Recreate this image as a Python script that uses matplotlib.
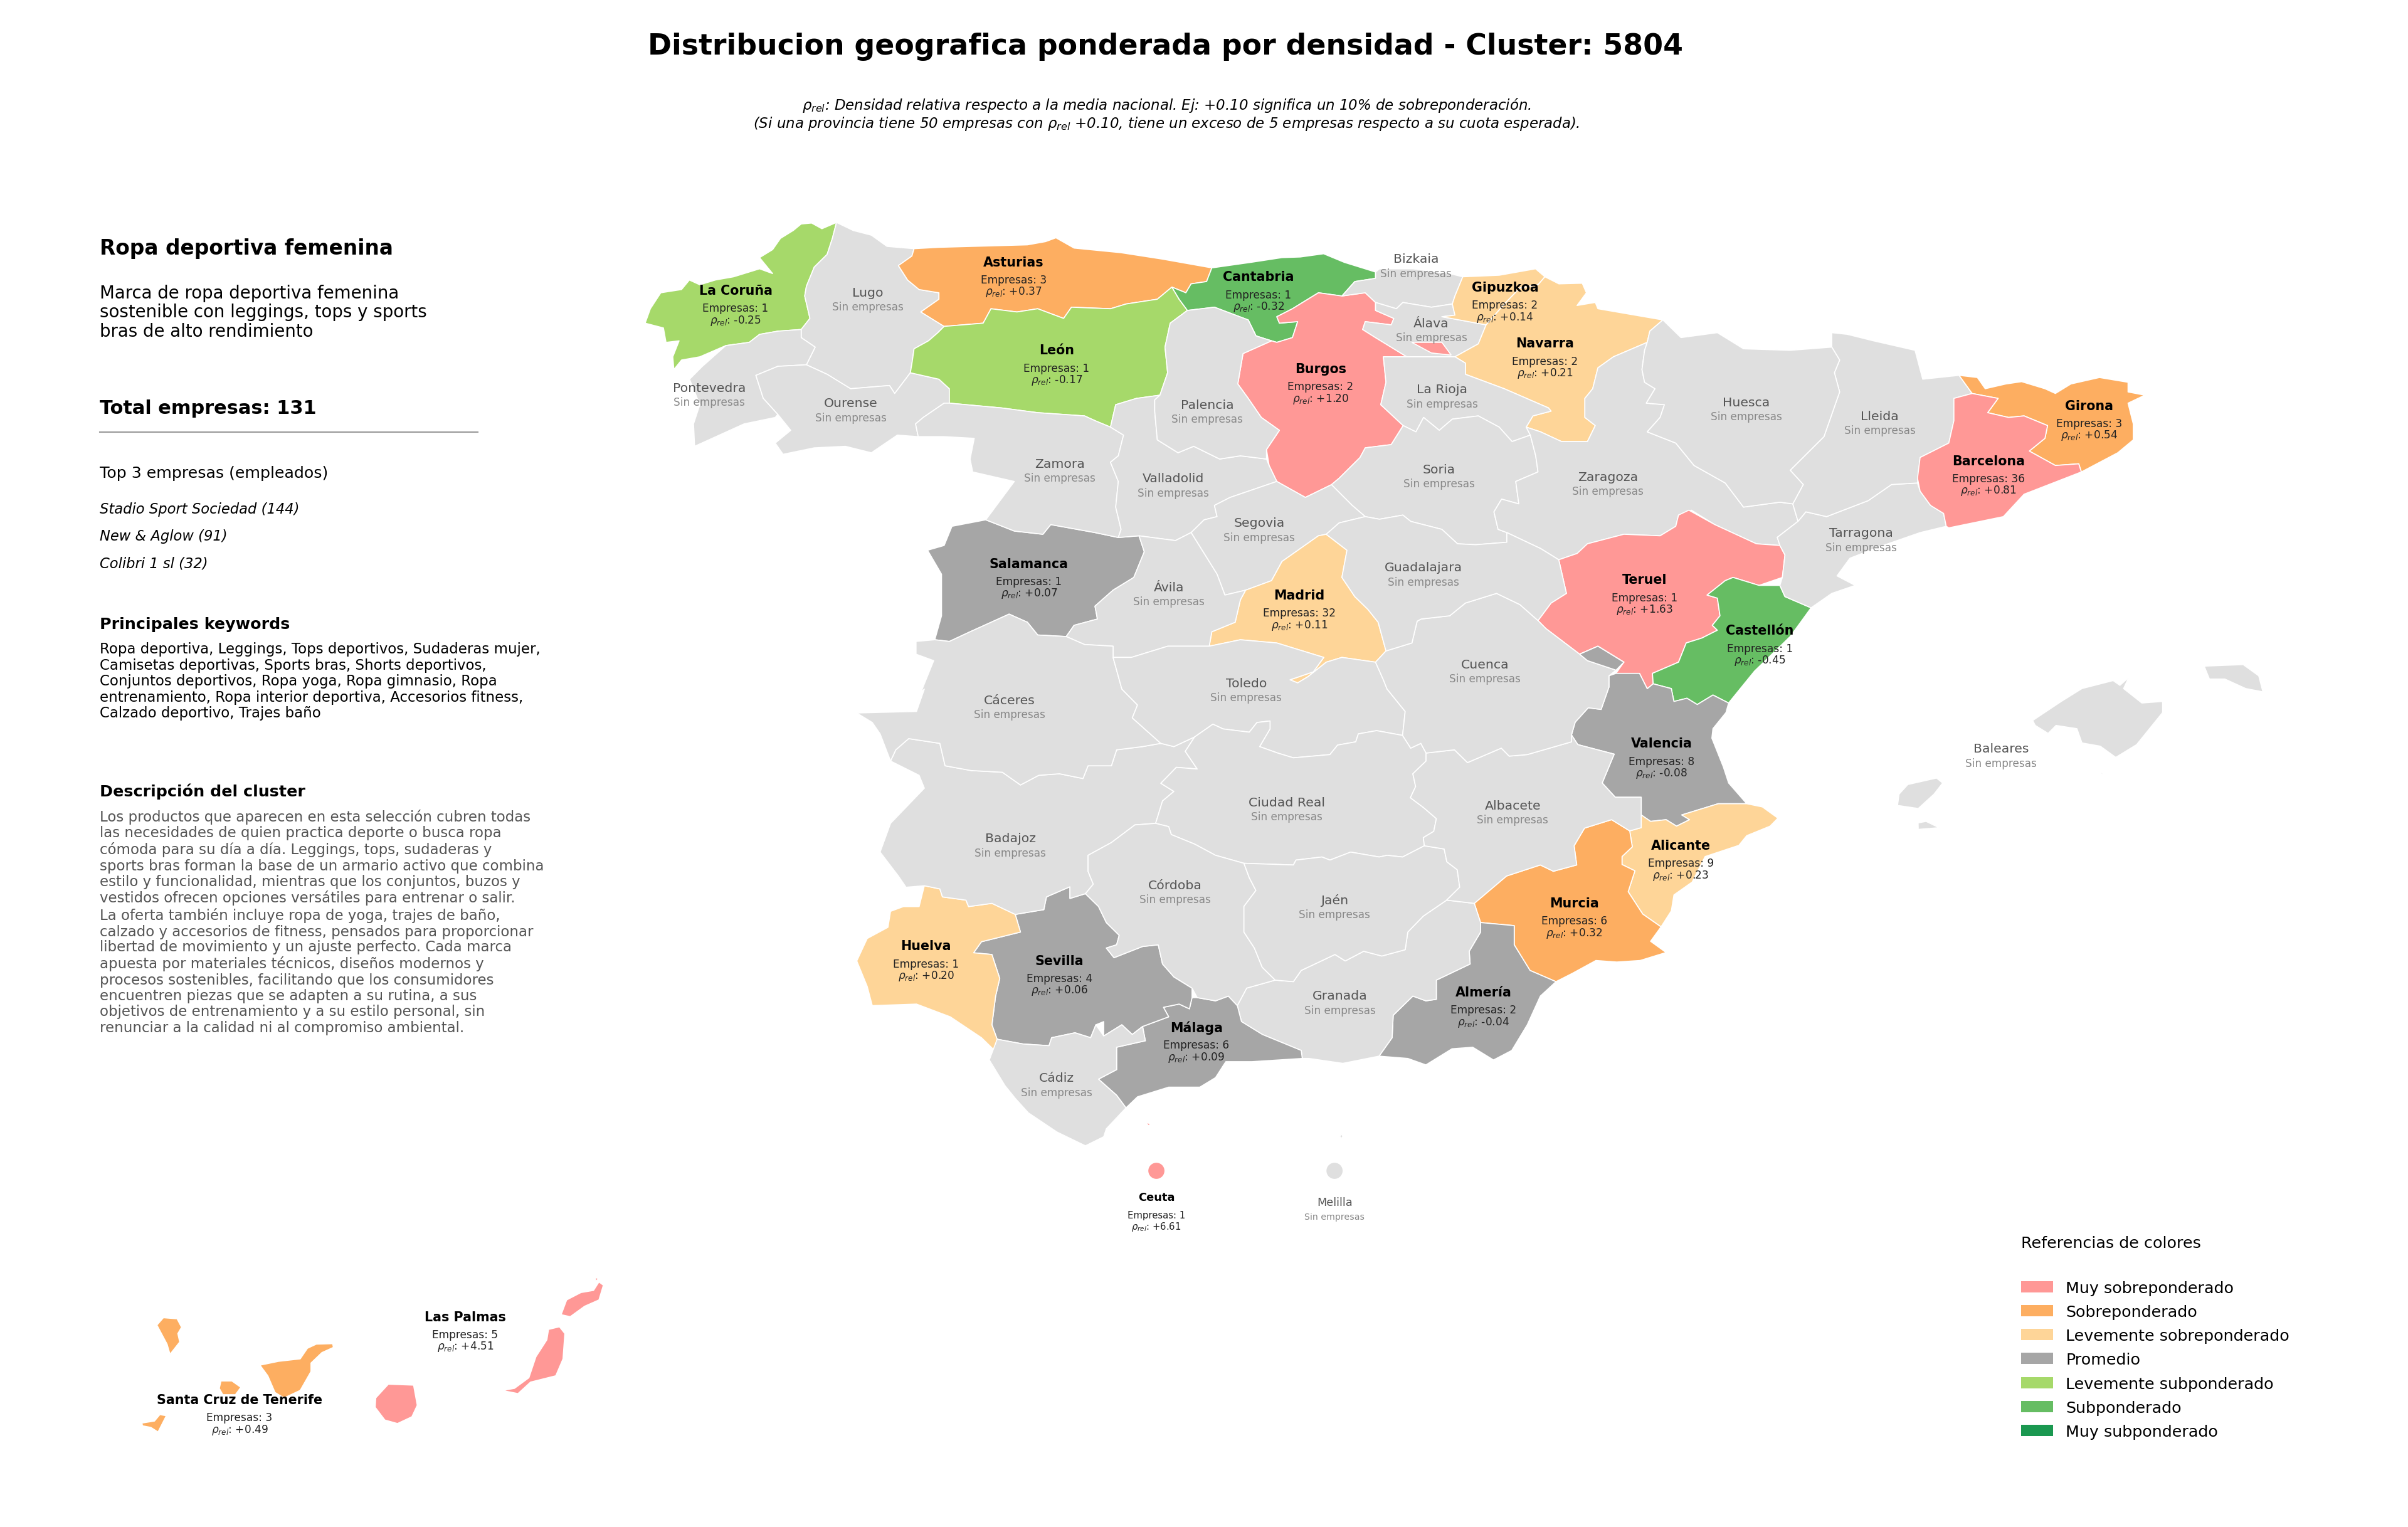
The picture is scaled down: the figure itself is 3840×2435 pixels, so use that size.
import matplotlib
matplotlib.use("Agg")
import matplotlib.pyplot as plt
from matplotlib.patches import Polygon, Patch, Ellipse

# ---------- outlines (map units) ----------
LA_CORUNA=[(544.7,145.3),(542,155.7),(538.6,166.1),(530.2,174.4),(525.1,186.9),(524,193.2),(527.4,207.8),(521.7,215),(506.5,216.1),(494.6,218.2),(487.9,223.4),(472.6,225.5),(455.7,232.8),(443.8,234.9),(438.8,241.1),(438.1,232.8),(442.2,222.4),(433.7,223.4),(432,214),(420.1,210.9),(423.5,201.5),(430.3,191.1),(443.8,189),(448.9,182.8),(455.7,185.9),(465.8,182.8),(477.7,180.7),(494.6,175.5),(503.1,178.6),(494.6,168.2),(503.1,163),(508.2,155.7),(516.6,150.5),(521.7,146.3),(528.5,145.7),(535.2,149.4)]
LUGO=[(544.7,145.3),(555.5,150.5),(567.4,153.6),(577.6,160.9),(595.2,162.4),(593.8,167.2),(585,173.4),(591,182.8),(598.5,189),(611.4,191.1),(611.4,195.3),(599.6,203.6),(614.8,213),(610.7,217.1),(604.6,222.4),(595.2,227.6),(594,236),(592.8,243.2),(582.6,256.7),(579.2,251.5),(553.9,253.6),(538.6,244.2),(525.1,238),(530.8,226.5),(521.7,220.3),(521.7,215),(527.4,207.8),(524,193.2),(525.1,186.9),(530.2,174.4),(538.6,166.1),(542,155.7)]
PONTEVEDRA=[(521.7,215),(521.7,220.3),(530.8,226.5),(525.1,238),(506.5,239),(492.2,244.9),(497,259.8),(506.5,270.3),(504.8,272.3),(484.5,276.5),(452.3,291.1),(451.6,276.5),(455.7,264),(449,247.4),(457.4,239),(472.6,225.5),(487.9,223.4),(494.6,218.2),(506.5,216.1)]
OURENSE=[(492.2,244.9),(506.5,239),(525.1,238),(538.6,244.2),(553.9,253.6),(579.2,251.5),(582.6,256.7),(592.8,243.2),(611.4,247.4),(618.2,253.6),(618.2,263),(614.8,263),(601.2,272.3),(596.2,276.5),(597.9,284.8),(584.3,283.8),(567.4,295.3),(550.5,291.1),(530.2,292.1),(509.9,296.3),(504.8,289),(514.9,280.7),(506.5,270.3),(497,259.8)]
ASTURIAS=[(585,173.4),(593.8,167.2),(595.2,162.4),(611.4,161.5),(669,159.9),(680.8,157.8),(687.6,155.3),(699.4,162),(729.9,165),(757,169.2),(789.1,174.9),(785.7,183.8),(775.6,185.3),(772.2,191.1),(763.1,187.4),(753.6,195.3),(733.3,198.4),(723.1,201.5),(697.7,200.5),(692.6,207.8),(675.7,201.5),(662.2,203.6),(645.3,201.5),(640.2,210.9),(614.8,213),(599.6,203.6),(611.4,195.3),(611.4,191.1),(598.5,189),(591,182.8)]
LEON=[(614.8,213),(640.2,210.9),(645.3,201.5),(662.2,203.6),(675.7,201.5),(692.6,207.8),(697.7,200.5),(723.1,201.5),(733.3,198.4),(753.6,195.3),(763.1,187.4),(767.8,195.3),(773.2,202.6),(762,210.9),(758.6,226.5),(760.3,243.2),(755.3,257.8),(740,259.9),(726.5,264),(723.1,278.6),(713,274.4),(706.2,271.3),(675.7,269.2),(652,266.1),(618.2,263),(618.2,253.6),(611.4,247.4),(592.8,243.2),(594,236),(595.2,227.6),(604.6,222.4),(610.7,217.1)]
CANTABRIA=[(789.1,174.9),(814.5,171.3),(834.8,168.2),(846.7,167.8),(861.9,165.7),(875.4,171.3),(895.7,177.6),(895.7,181.7),(882.2,183.8),(873.8,193.2),(858.5,191.1),(841.6,201.5),(831.4,206.7),(833.1,210.9),(845,209.9),(841.6,220.3),(831.4,223.4),(828,222.4),(817.9,219.2),(812.8,208.8),(790.8,200.5),(773.2,202.6),(767.8,195.3),(763.1,187.4),(772.2,191.1),(775.6,185.3),(785.7,183.8)]
BURGOS=[(873.8,193.2),(889,191.1),(895.7,197.4),(895.7,202.6),(907.6,207.8),(905.9,212),(889,209.9),(887.3,215),(895.7,220.3),(916.1,232.8),(900.8,232.8),(902.5,249.4),(899.1,264),(913.7,277.6),(905.9,290),(889,292.1),(885.6,298.4),(872,311.9),(867,316.1),(850,324.4),(831.4,314),(826.4,303.6),(824.7,293.2),(833.1,280.7),(821.3,272.3),(812.8,259.9),(806,250.5),(809.4,230.7),(828,222.4),(831.4,223.4),(841.6,220.3),(845,209.9),(833.1,210.9),(831.4,206.7),(841.6,201.5),(858.5,191.1)]
TREVINO=[(919.3,223.4),(938.9,223.4),(945,231.7),(932.1,230.3)]
BIZKAIA=[(873.8,193.2),(882.2,183.8),(895.7,181.7),(895.7,177.6),(898.3,175.5),(920,175.5),(944,178.6),(952.5,180.7),(947.4,193.2),(945.7,198.4),(932.1,200.5),(913.5,197.4),(909.3,201.5),(895.7,197.4),(889,191.1)]
ALAVA=[(895.7,197.4),(909.3,201.5),(913.5,197.4),(932.1,200.5),(945.7,198.4),(947.4,205.7),(938.9,206.7),(967.7,212),(962.6,224.4),(947.4,232.8),(916.1,232.8),(895.7,220.3),(887.3,215),(889,209.9),(905.9,212),(907.6,207.8),(895.7,202.6)]
GIPUZKOA=[(952.5,180.7),(976.2,179.7),(999.9,175.5),(1006,180.7),(1001.5,185.9),(989.7,188),(980,198),(967.7,212),(938.9,206.7),(947.4,205.7),(945.7,198.4),(947.4,193.2)]
NAVARRA=[(1006,180.7),(1015.1,185.3),(1030.3,184.9),(1033,191.1),(1026.9,199.4),(1038.8,197.4),(1040.5,201.5),(1082.8,208.8),(1074.3,216.1),(1072.6,223.4),(1050.6,232.8),(1040.5,240),(1037.1,253.6),(1032,259.9),(1032,272.3),(1038.8,277.6),(1033.7,288),(1016.8,288),(1003.2,281.7),(993.8,278.6),(998.2,271.3),(1010,268.2),(1008.3,266.1),(979.5,253.6),(954.2,244.2),(954.2,236.9),(947.4,232.8),(962.6,224.4),(967.7,212),(980,198),(989.7,188),(1001.5,185.9)]
LA_RIOJA=[(900.8,232.8),(916.1,232.8),(947.4,232.8),(954.2,236.9),(954.2,244.2),(979.5,253.6),(1008.3,266.1),(1010,268.2),(998.2,271.3),(993.8,278.6),(996.5,283.8),(984.6,288),(976.2,278.6),(962.6,271.3),(945.7,273.4),(937.2,280.7),(927,272.3),(922,281.7),(913.7,277.6),(899.1,264),(902.5,249.4)]
SORIA=[(913.7,277.6),(922,281.7),(927,272.3),(937.2,280.7),(945.7,273.4),(962.6,271.3),(976.2,278.6),(984.6,288),(996.5,283.8),(1000,297.3),(1001.5,307.8),(987,314),(989,328.6),(977.8,325.5),(972.8,333.8),(975.5,345.2),(981.2,347.3),(981.2,353.6),(960.9,355.2),(949.1,354.6),(938.9,345.2),(918.6,340),(913.5,335.9),(898.3,338.6),(889,336.9),(880.5,329.6),(867,316.1),(872,311.9),(885.6,298.4),(889,292.1),(905.9,290)]
ZARAGOZA=[(996.5,283.8),(993.8,278.6),(1003.2,281.7),(1016.8,288),(1033.7,288),(1038.8,277.6),(1032,272.3),(1032,259.9),(1037.1,253.6),(1040.5,240),(1050.6,232.8),(1072.6,223.4),(1070.9,228.6),(1069.2,241.1),(1070.9,249.4),(1077.7,253.6),(1072,263),(1083.8,264),(1081,272.3),(1072.6,281.7),(1091.2,289),(1103.1,303.6),(1123.4,315),(1135.3,330.7),(1159,327.5),(1167.4,328.6),(1170.8,340),(1157.3,350.4),(1159,355.7),(1143.7,354.6),(1116.6,342.1),(1101.4,332.7),(1093,335.9),(1091.2,343.2),(1081,349.4),(1057.4,348.4),(1033.7,354.6),(1027,360.9),(1015,365),(1003.2,357.7),(981.2,347.3),(975.5,345.2),(972.8,333.8),(977.8,325.5),(989,328.6),(987,314),(1001.5,307.8),(1000,297.3)]
TERUEL=[(1099.7,332.7),(1116.6,342.1),(1143.7,354.6),(1159,355.7),(1162.3,361.9),(1160.6,376.5),(1145.4,381.7),(1128.5,376.5),(1123.4,378.6),(1111.6,388),(1118.3,390),(1120,401.5),(1115,407.7),(1118.3,410.9),(1108.2,416),(1098,419.2),(1093,431.7),(1076,439),(1076.5,445.8),(1072.6,449),(1067.6,439),(1052.3,439),(1057.4,431.7),(1040.5,421.3),(1028.6,426.5),(1006.6,409.8),(1001.5,404.6),(1010,393.2),(1020,386.9),(1015,365),(1027,360.9),(1033.7,354.6),(1057.4,348.4),(1081,349.4),(1091.2,343.2),(1093,335.9)]
CASTELLON=[(1128.5,376.5),(1145.4,381.7),(1159,381.7),(1162.3,389),(1179.3,396.3),(1172.5,405.7),(1165.7,415),(1142.5,437.5),(1125.6,458.3),(1115.4,453.1),(1105.2,459.3),(1098.5,455.2),(1090,457.3),(1088.3,448.9),(1076.5,445.8),(1076,439),(1093,431.7),(1098,419.2),(1108.2,416),(1118.3,410.9),(1115,407.7),(1120,401.5),(1118.3,390),(1111.6,388),(1123.4,378.6)]
TARRAGONA=[(1157.3,350.4),(1170.8,340),(1175.9,333.8),(1189.4,336.9),(1216.5,326.5),(1231.7,316),(1248.6,315),(1250.3,320.3),(1257.1,329.6),(1265.6,334.8),(1267.3,343.2),(1250.3,347.3),(1223.3,356.7),(1204.6,364),(1196.2,375.5),(1208,381.7),(1192.8,386.9),(1179.3,396.3),(1162.3,389),(1159,381.7),(1160.6,376.5),(1162.3,361.9),(1159,355.7)]
LLEIDA=[(1192.8,217.1),(1203,218.2),(1219.9,222.4),(1247,228.6),(1252,247.4),(1275.7,244.9),(1284.2,256.7),(1272.3,259.9),(1272.3,274.4),(1269,289),(1250.3,298.4),(1248.6,315),(1231.7,316),(1216.5,326.5),(1189.4,336.9),(1175.9,333.8),(1170.8,340),(1167.4,328.6),(1174.2,316),(1165.7,306.7),(1187.7,284.8),(1197.9,255.7),(1194.5,243.2),(1197.9,234.9),(1192.8,226.5)]
HUESCA=[(1082.8,208.8),(1094.6,220.3),(1118.3,217.1),(1135.3,227.6),(1165.7,228.6),(1192.8,226.5),(1197.9,234.9),(1194.5,243.2),(1197.9,255.7),(1187.7,284.8),(1165.7,306.7),(1174.2,316),(1167.4,328.6),(1159,327.5),(1135.3,330.7),(1123.4,315),(1103.1,303.6),(1091.2,289),(1072.6,281.7),(1081,272.3),(1083.8,264),(1072,263),(1077.7,253.6),(1070.9,249.4),(1069.2,241.1),(1070.9,228.6),(1072.6,223.4),(1074.3,216.1)]
GIRONA=[(1275.7,244.9),(1287.6,246.3),(1292.7,253.6),(1306.2,250.5),(1316.4,249),(1331.6,253.6),(1338.4,256.7),(1348.5,250.5),(1367.1,246.3),(1385.7,249.4),(1385.7,255.7),(1396.6,257.8),(1385.7,263),(1389.1,276.5),(1389.1,286.9),(1379,295.3),(1355.3,307.8),(1353.6,302.5),(1338.4,303.6),(1321.4,294.2),(1331.6,285.9),(1333.3,277.6),(1318,271.3),(1307.9,272.3),(1294.3,269.2),(1301.1,259.9),(1284.2,256.7)]
BARCELONA=[(1272.3,259.9),(1284.2,256.7),(1301.1,259.9),(1294.3,269.2),(1307.9,272.3),(1318,271.3),(1333.3,277.6),(1331.6,285.9),(1321.4,294.2),(1338.4,303.6),(1353.6,302.5),(1355.3,307.8),(1318,322.3),(1304.5,336.9),(1269,344.2),(1267.3,343.2),(1265.6,334.8),(1257.1,329.6),(1250.3,320.3),(1248.6,311.9),(1250.3,298.4),(1269,289),(1272.3,274.4)]
VALENCIA=[(1047.7,440.6),(1052.3,439),(1067.6,439),(1072.6,449),(1076.5,445.8),(1088.3,448.9),(1090,457.3),(1098.5,455.2),(1105.2,459.3),(1115.4,453.1),(1125.6,458.3),(1123.9,464.5),(1115.4,475),(1114.7,481.2),(1122.2,500),(1125.6,510.4),(1137.4,523.9),(1118.8,523.9),(1095.1,531.2),(1100.2,534.3),(1091.7,538.5),(1084.9,534.3),(1074.8,535.4),(1068.7,531.2),(1068.7,519.7),(1051.8,519.7),(1043.3,510.4),(1051.1,491.6),(1027.4,485.4),(1023.3,479.1),(1025.7,470.8),(1034.2,461.4),(1042.6,462.5),(1047.7,447.9)]
ADEMUZ=[(1040.5,421.3),(1057.4,431.7),(1052.3,436.9),(1033.7,430.7),(1028.6,426.5)]
ALICANTE=[(1137.4,523.9),(1147.6,526),(1157.7,533.3),(1152.6,538.5),(1137.4,544.7),(1132.3,551),(1110.3,558.3),(1101.9,574.9),(1090,583.3),(1088.3,593.7),(1081.6,604.1),(1069.7,595.8),(1060.2,581.2),(1064.6,567.6),(1056.2,563.5),(1056.2,558.3),(1062.9,552),(1061.2,541.6),(1068.7,539.5),(1068.7,531.2),(1074.8,535.4),(1084.9,534.3),(1091.7,538.5),(1100.2,534.3),(1095.1,531.2),(1118.8,523.9)]
MURCIA=[(1049.4,534.3),(1061.2,541.6),(1062.9,552),(1056.2,558.3),(1056.2,563.5),(1064.6,567.6),(1060.2,581.2),(1069.7,595.8),(1081.6,604.1),(1074.8,613.5),(1084.9,620.8),(1068,626),(1052.8,627),(1039.2,626),(1024,634.3),(1013.2,639.8),(996.3,632.5),(986,615.8),(986,603.3),(964.1,601.3),(960,588.8),(981,571),(1003,563.8),(1011.5,567.9),(1026.7,563.8),(1025,551.3),(1031.8,539.8)]
ALMERIA=[(964.1,601.3),(986,603.3),(986,615.8),(996.3,632.5),(1013.2,639.8),(1003,649.2),(994.5,667.9),(984.4,684.6),(972.5,690.8),(959,682.5),(945.5,683.5),(928.5,694),(916.7,689.8),(898,688.3),(906.5,676.3),(907.2,661.7),(920,649.2),(928.5,652.3),(935.3,651.3),(935.3,638.8),(957.3,628.3),(956.7,620),(964.1,607.5)]
GRANADA=[(830.4,638.8),(842.2,639.8),(847.3,632.5),(869.3,622.1),(876,626.3),(888,620),(899.8,623.1),(915,619),(916.7,607.5),(926.8,597.1),(942,586.7),(960,588.8),(964.1,601.3),(964.1,607.5),(956.7,620),(957.3,628.3),(935.3,638.8),(935.3,651.3),(928.5,652.3),(920,649.2),(907.2,661.7),(906.5,676.3),(898,688.3),(874.4,693),(852.4,689.8),(848,689.8),(847.3,684.6),(822,674.2),(808.4,665.8),(805.7,655.4),(811.8,644)]
MALAGA=[(779.6,650.2),(791.5,652.3),(799.9,649.2),(805.7,655.4),(808.4,665.8),(822,674.2),(847.3,684.6),(848,689.8),(815.2,691.9),(798.2,691.9),(791.5,702.3),(781.3,708.5),(761,708.5),(740.7,714.8),(733.2,722),(727.1,713.8),(715.3,703.3),(727.1,697.1),(727.1,682.5),(745.8,678.3),(744,669),(761,662.7),(757.6,656.5),(767.8,654.4),(774.5,657.5),(776.2,650.2)]
SEVILLA=[(681.4,584.6),(696.7,578),(696.7,585.6),(706.8,582.5),(715.3,590.8),(720.4,601.3),(728.8,609.6),(727.1,615.8),(720.4,617.9),(725.4,624.2),(744,616.9),(754.2,615.8),(757,628.3),(764.4,636.7),(776.2,644),(776.2,650.2),(774.5,657.5),(767.8,654.4),(757.6,656.5),(761,662.7),(744,669),(737.3,674.2),(730.5,667.9),(718.7,675.2),(718.7,665.8),(713.6,667.9),(710.2,676.3),(700,673.1),(684.8,676.3),(683.1,681.5),(666.2,680.4),(649.3,677.3),(645.9,667.9),(648.3,649.2),(651,637.7),(645.9,622.1),(634,621),(639.1,613.8),(664.5,607.5),(661.1,596),(679.7,592.9)]
HUELVA=[(601.9,577.3),(612,579.4),(613.7,584.6),(629,586.7),(630.7,590.9),(645.9,588.8),(661.1,596),(664.5,607.5),(639.1,613.8),(634,621),(645.9,622.1),(651,637.7),(648.3,649.2),(645.9,667.9),(649.3,677.3),(647.6,684.6),(639.1,676.3),(618.8,662.7),(596.8,654.4),(568,655.4),(564.7,642.9),(557.9,626.3),(564.7,611.7),(578.2,604.4),(579.9,594),(588.3,590.9),(598.5,590.9)]
CADIZ=[(649.3,677.3),(666.2,680.4),(683.1,681.5),(684.8,676.3),(700,673.1),(710.2,676.3),(713.6,667.9),(718.7,675.2),(730.5,667.9),(737.3,674.2),(744,669),(745.8,678.3),(727.1,682.5),(727.1,697.1),(715.3,703.3),(727.1,713.8),(733.2,722),(720.4,735.6),(718.7,740.8),(706.8,746.7),(688.2,737.7),(669.6,725.2),(661.1,715.8),(654.4,707.5),(644.2,690.8)]
BADAJOZ=[(579.9,496.1),(583.3,488.8),(591.7,481.5),(612,484.6),(615.4,499.2),(632.4,502.3),(652.7,503.4),(664.5,511.7),(676.4,505.4),(689.9,504.4),(705.2,507.5),(708.5,499.2),(723.7,499.2),(727.1,488.8),(744,486.7),(755.9,484.6),(764.4,486.7),(777.9,480.4),(771.8,489.8),(779.6,501.3),(766,500.2),(755.9,510.6),(764.4,515.9),(757,522.1),(752.5,536.7),(739,537.7),(723.7,549.2),(708.5,557.5),(708.5,567.9),(711.9,576.3),(706.8,582.5),(696.7,585.6),(696.7,578),(681.4,584.6),(679.7,592.9),(661.1,596),(645.9,588.8),(630.7,590.9),(629,586.7),(613.7,584.6),(612,579.4),(601.9,577.3),(590,578.3),(585,571),(573.1,555.4),(579.9,536.7),(601.9,513.8),(598.5,505.4)]
SALAMANCA=[(641.9,339),(660.5,346.3),(679.1,348.4),(684.2,342.1),(713,347.3),(728.2,350.5),(741.7,349.4),(745.1,359.8),(738.3,376.5),(724.8,384.8),(713,395.2),(714.6,403.6),(699.4,407.7),(694.3,415),(675.7,414),(669,405.7),(657.1,400.4),(631.7,411.9),(618.2,418.2),(608.7,417.1),(613.1,401.5),(613.1,374.4),(604,358.8),(614.8,355.7),(619.9,343.2)]
ZAMORA=[(596.2,276.5),(601.2,272.3),(614.8,263),(618.2,263),(652,266.1),(675.7,269.2),(706.2,271.3),(713,274.4),(723.1,278.6),(731.6,283.8),(728.2,297.3),(723.1,301.5),(728.2,314),(726.5,330.7),(730,345.2),(728.2,350.5),(713,347.3),(684.2,342.1),(679.1,348.4),(660.5,346.3),(641.9,339),(660.5,314),(633.4,307.8),(631.7,299.4),(634.4,285.9),(614.8,284.8),(597.9,284.8)]
VALLADOLID=[(726.5,264),(740,259.9),(755.3,257.8),(751.9,260.9),(751.9,268.2),(753.6,286.9),(767.1,295.3),(777.3,291.1),(794.2,299.4),(807.7,297.3),(824.7,299.4),(826.4,303.6),(831.4,314),(801,324.4),(790.8,329.6),(792.5,336.9),(784.1,339),(775.6,347.3),(765.4,352.5),(741.7,349.4),(728.2,350.5),(730,345.2),(726.5,330.7),(728.2,314),(723.1,301.5),(728.2,297.3),(731.6,283.8),(723.1,278.6)]
PALENCIA=[(773.2,202.6),(790.8,200.5),(812.8,208.8),(817.9,219.2),(828,222.4),(809.4,230.7),(806,250.5),(812.8,259.9),(821.3,272.3),(833.1,280.7),(824.7,293.2),(824.7,299.4),(807.7,297.3),(794.2,299.4),(777.3,291.1),(767.1,295.3),(753.6,286.9),(751.9,268.2),(751.9,260.9),(755.3,257.8),(760.3,243.2),(758.6,226.5),(762,210.9)]
SEGOVIA=[(831.4,314),(850,324.4),(867,316.1),(880.5,329.6),(889,336.9),(872,341),(863.6,348.4),(858.5,349.4),(834.8,366.1),(828,378.6),(811.1,384.8),(797.6,388),(792.5,374.4),(775.6,347.3),(784.1,339),(792.5,336.9),(790.8,329.6),(801,324.4)]
MADRID=[(863.6,348.4),(877.1,358.8),(873.8,376.5),(882.2,389),(890.7,397.3),(897.4,405.7),(902.5,424.4),(895.7,431.7),(873.8,428.6),(863.6,431.7),(851.8,441.1),(845,445.2),(840,443.2),(855.2,438),(862,428.6),(831.4,419.2),(807.7,417.1),(787.4,421.3),(789.1,411.9),(804.3,405.7),(807.7,391.1),(811.1,384.8),(828,378.6),(834.8,366.1),(858.5,349.4)]
AVILA=[(741.7,349.4),(765.4,352.5),(775.6,347.3),(792.5,374.4),(797.6,388),(811.1,384.8),(807.7,391.1),(804.3,405.7),(789.1,411.9),(787.4,421.3),(760.4,421.3),(736.7,428.6),(724.8,428.6),(724.8,421.3),(706.2,420.2),(694.3,415),(699.4,407.7),(714.6,403.6),(713,395.2),(724.8,384.8),(738.3,376.5),(745.1,359.8)]
CACERES=[(596.5,418.2),(608.7,417.1),(618.2,418.2),(631.7,411.9),(657.1,400.4),(669,405.7),(675.7,414),(694.3,415),(706.2,420.2),(724.8,421.3),(724.8,428.6),(730.5,449.2),(740.7,459.6),(737.3,468),(755.9,484.6),(744,486.7),(727.1,488.8),(723.7,499.2),(708.5,499.2),(705.2,507.5),(689.9,504.4),(676.4,505.4),(664.5,511.7),(652.7,503.4),(632.4,502.3),(615.4,499.2),(612,484.6),(591.7,481.5),(583.3,488.8),(579.9,496.1),(573.1,478.4),(568,471),(557.9,464.8),(596.8,463.8),(601.9,449.2),(599.6,451.5),(608,430.7),(596.5,426.5)]
TOLEDO=[(724.8,428.6),(736.7,428.6),(760.4,421.3),(787.4,421.3),(807.7,417.1),(831.4,419.2),(862,428.6),(855.2,438),(840,443.2),(845,445.2),(851.8,441.1),(863.6,431.7),(873.8,428.6),(895.7,431.7),(900.8,443.2),(903.2,449.2),(915,463.8),(913.3,479.4),(896.4,476.3),(884.5,478.4),(882.8,483.6),(871,485.7),(866,491.9),(842.2,494),(832,490.9),(820.2,486.7),(827,475.2),(827,470),(818.5,471),(813.5,477.3),(796.5,475.2),(789.8,472.1),(777.9,480.4),(764.4,486.7),(755.9,484.6),(737.3,468),(740.7,459.6),(730.5,449.2)]
CIUDAD_REAL=[(777.9,480.4),(789.8,472.1),(796.5,475.2),(813.5,477.3),(818.5,471),(827,470),(827,475.2),(820.2,486.7),(832,490.9),(842.2,494),(866,491.9),(871,485.7),(882.8,483.6),(884.5,478.4),(896.4,476.3),(913.3,479.4),(918.6,487.7),(925.2,484.6),(928.6,490.9),(928.6,496.1),(920,504.4),(921.8,512.7),(918.4,520),(926.8,526.3),(935.3,533.6),(933.6,541.9),(926.8,546),(927.5,551.3),(913.3,558.6),(903.2,557.5),(898.1,558.6),(879.5,555.4),(866,560.6),(860.8,558.6),(843.9,560.6),(842.2,563.8),(810,562.7),(791.5,557.5),(777.9,550.2),(762.7,544),(761,538.8),(752.5,536.7),(757,522.1),(764.4,515.9),(755.9,510.6),(766,500.2),(779.6,501.3),(771.8,489.8)]
CORDOBA=[(739,537.7),(752.5,536.7),(761,538.8),(762.7,544),(777.9,550.2),(791.5,557.5),(810,562.7),(813.5,572.1),(817.8,580.4),(810,590.8),(810,607.5),(816.8,617.9),(821.9,630.4),(830.4,638.8),(811.8,644),(805.7,655.4),(799.9,649.2),(791.5,652.3),(779.6,650.2),(776.2,644),(764.4,636.7),(757,628.3),(754.2,615.8),(744,616.9),(725.4,624.2),(720.4,617.9),(727.1,615.8),(728.8,609.6),(720.4,601.3),(715.3,590.8),(706.8,582.5),(711.9,576.3),(708.5,567.9),(708.5,557.5),(723.7,549.2)]
JAEN=[(810,562.7),(842.2,563.8),(843.9,560.6),(860.8,558.6),(866,560.6),(879.5,555.4),(898.1,558.6),(903.2,557.5),(913.3,558.6),(927.5,551.3),(940.4,553.4),(942.1,561.7),(948.9,566.9),(950.5,578.3),(942,586.7),(926.8,597.1),(916.7,607.5),(915,619),(899.8,623.1),(888,620),(876,626.3),(869.3,622.1),(847.3,632.5),(842.2,639.8),(830.4,638.8),(821.9,630.4),(816.8,617.9),(810,607.5),(810,590.8),(817.8,580.4),(813.5,572.1)]
ALBACETE=[(928.6,490.9),(947.1,488.8),(955.6,497.1),(977.6,487.7),(982.7,492.9),(994.5,491.9),(1023.3,483.6),(1023.3,479.1),(1027.4,485.4),(1051.1,491.6),(1043.3,510.4),(1051.8,519.7),(1068.7,519.7),(1068.7,531.2),(1068.7,539.5),(1061.2,541.6),(1049.4,534.3),(1031.8,539.8),(1025,551.3),(1026.7,563.8),(1011.5,567.9),(1003,563.8),(981,571),(960,588.8),(942,586.7),(950.5,578.3),(948.9,566.9),(942.1,561.7),(940.4,553.4),(927.5,551.3),(926.8,546),(933.6,541.9),(935.3,533.6),(926.8,526.3),(918.4,520),(921.8,512.7),(920,504.4),(928.6,496.1)]
CUENCA=[(1001.5,404.6),(1006.6,409.8),(1028.6,426.5),(1033.7,430.7),(1052.3,436.9),(1047.7,440.6),(1047.7,447.9),(1042.6,462.5),(1034.2,461.4),(1025.7,470.8),(1023.3,479.1),(1023.3,483.6),(994.5,491.9),(982.7,492.9),(977.6,487.7),(955.6,497.1),(947.1,488.8),(928.6,490.9),(925.2,484.6),(918.6,487.7),(913.3,479.4),(915,463.8),(903.2,449.2),(900.8,443.2),(895.7,431.7),(902.5,424.4),(919.4,419.2),(922.8,405),(925.4,403.6),(944,401.5),(954.2,393.2),(974.5,386.9),(989.7,394.2)]
GUADALAJARA=[(889,336.9),(898.3,338.6),(913.5,335.9),(918.6,340),(938.9,345.2),(949.1,354.6),(960.9,355.2),(981.2,353.6),(981.2,347.3),(1003.2,357.7),(1015,365),(1020,386.9),(1010,393.2),(1001.5,404.6),(989.7,394.2),(974.5,386.9),(954.2,393.2),(944,401.5),(925.4,403.6),(922.8,405),(919.4,419.2),(902.5,424.4),(897.4,405.7),(890.7,397.3),(882.2,389),(873.8,376.5),(877.1,358.8),(863.6,348.4),(872,341)]
MALLORCA=[(1323.6,469.7),(1342.2,457.3),(1355.7,448.9),(1376,443.7),(1380.4,446.8),(1386.2,441.6),(1382.8,448.9),(1394.7,458.3),(1408.2,457.3),(1408.2,464.5),(1399.7,475),(1391.3,485.4),(1377.7,493.7),(1367.6,486.4),(1355.7,484.3),(1352.4,475),(1338.8,472.9),(1333.7,478.1),(1325.3,472.9)]
MENORCA=[(1435.3,434.3),(1460.7,433.3),(1470.8,440.6),(1473.5,451),(1462.4,448.9),(1448.8,442.7),(1438.7,442.7)]
IBIZA=[(1242.3,511.4),(1261,507.2),(1265,510.4),(1259.3,517.7),(1249.1,527),(1235.6,525),(1236.6,517.7)]
FORMENTERA=[(1249,536.4),(1254.2,535.4),(1262.6,539.5),(1249.1,540.6)]
CABRERA=[(1368,503.4),(1369.4,504),(1368.6,505.2)]
LA_PALMA=[(102.2,863.5),(106.4,858.7),(115.3,859.4),(118.2,864.9),(115.8,869),(117,874.5),(110.7,882.5),(108.8,875.9)]
TENERIFE=[(169.3,889.6),(181.4,887.1),(195.5,885.5),(200.2,878.6),(206,875.9),(216.6,875.6),(217.1,878),(209.6,881.4),(202.5,888.2),(202.5,893.7),(195.5,906),(185,910.9),(179.1,907.4),(174.4,896.5)]
GOMERA=[(143.9,899.9),(151,899.9),(156.8,904),(153.3,908.8),(145.1,908.8),(142.8,904.7)]
EL_HIERRO=[(92.4,927.3),(100.6,926),(104.1,921.8),(108.3,922.5),(102.9,933.1),(98.2,930.1),(92.8,929.1)]
GRAN_CANARIA=[(252.9,902),(269.3,902.6),(271.7,915.7),(268.2,923.2),(258.8,927.6),(250.6,925.3),(244.3,917),(244.7,910.9)]
FUERTEVENTURA=[(357.2,866.3),(364.3,864.6),(367.8,869),(366.6,885.5),(361.9,896.5),(345.5,900.6),(337.3,908.1),(327.2,906.1),(335,904.7),(344.4,897.8),(349,884.1),(356.1,873.1)]
LANZAROTE=[(365.4,856.7),(369,847.1),(378.3,842.3),(386.5,840.9),(390,835.4),(392.9,837.5),(390,847.1),(380.7,851.2),(371.3,858)]
GRACIOSA=[(387.7,832.2),(389.6,833.4),(388,835)]
ALEGRANZA=[(387.5,823.3),(388.6,823.6),(388,824.8)]
CEUTA_LAND=[(746.5,731),(749.5,733),(747.5,733.5)]
MELILLA_LAND=[(873.4,738.8),(874.4,740.6),(873.4,742),(872.5,740.6)]

# ---------- provinces ----------
province_names=["La Coruña","Lugo","Pontevedra","Ourense","Asturias","León","Cantabria","Burgos","Bizkaia","Álava","Gipuzkoa","Navarra","La Rioja","Soria","Zaragoza","Teruel","Castellón","Tarragona","Lleida","Huesca","Girona","Barcelona","Valencia","Alicante","Murcia","Almería","Granada","Málaga","Sevilla","Huelva","Cádiz","Badajoz","Salamanca","Zamora","Valladolid","Palencia","Segovia","Madrid","Ávila","Cáceres","Toledo","Ciudad Real","Córdoba","Jaén","Albacete","Cuenca","Guadalajara","Baleares","Santa Cruz de Tenerife","Las Palmas","Ceuta","Melilla"]
province_shapes=[[LA_CORUNA],[LUGO],[PONTEVEDRA],[OURENSE],[ASTURIAS],[LEON],[CANTABRIA],[BURGOS,TREVINO],[BIZKAIA],[ALAVA],[GIPUZKOA],[NAVARRA],[LA_RIOJA],[SORIA],[ZARAGOZA],[TERUEL],[CASTELLON],[TARRAGONA],[LLEIDA],[HUESCA],[GIRONA],[BARCELONA],[VALENCIA,ADEMUZ],[ALICANTE],[MURCIA],[ALMERIA],[GRANADA],[MALAGA],[SEVILLA],[HUELVA],[CADIZ],[BADAJOZ],[SALAMANCA],[ZAMORA],[VALLADOLID],[PALENCIA],[SEGOVIA],[MADRID],[AVILA],[CACERES],[TOLEDO],[CIUDAD_REAL],[CORDOBA],[JAEN],[ALBACETE],[CUENCA],[GUADALAJARA],[MALLORCA,MENORCA,IBIZA,FORMENTERA,CABRERA],[LA_PALMA,TENERIFE,GOMERA,EL_HIERRO],[GRAN_CANARIA,FUERTEVENTURA,LANZAROTE,GRACIOSA,ALEGRANZA],[CEUTA_LAND],[MELILLA_LAND]]
empresas=[1,0,0,0,3,1,1,2,0,0,2,2,0,0,0,1,1,0,0,0,3,36,8,9,6,2,0,6,4,1,0,0,1,0,0,0,0,32,0,0,0,0,0,0,0,0,0,0,3,5,1,0]
rho=[-0.25,None,None,None,0.37,-0.17,-0.32,1.20,None,None,0.14,0.21,None,None,None,1.63,-0.45,None,None,None,0.54,0.81,-0.08,0.23,0.32,-0.04,None,0.09,0.06,0.20,None,None,0.07,None,None,None,None,0.11,None,None,None,None,None,None,None,None,None,None,0.49,4.51,6.61,None]
label_x=[479,565,462,554,660,688,819.5,860,922,932,980,1006,939,937,1047,1071,1146,1212,1224,1137,1360.5,1295,1082,1094.5,1025,966,872.5,779,690,603,688,658,670,690,764,786,820,846,761,657.5,811.5,838,765,869,985,967,927,1303,156,303,753,869]
label_y=[189.5,191,253,263,171,228.5,180.7,240.5,169,211,187.5,224,254,306,311,378,411,347.5,271.5,262.5,264.5,300.5,484.5,551,588.5,646.5,649,669.5,626,616.5,702.5,546.5,367.5,302.5,312,264,341,388,383,456.5,445.5,523,577,586.5,525,433,370,488,912,858,780,783.5]
small_label_provinces=["Ceuta","Melilla"]

legend_labels=["Muy sobreponderado","Sobreponderado","Levemente sobreponderado","Promedio","Levemente subponderado","Subponderado","Muy subponderado"]
legend_colors=["#FF9896","#FDAE61","#FED598","#A6A6A6","#A6D96A","#66BD63","#1A9850"]
NO_DATA="#DFDFDF"

def colour(v):
    if v is None: return NO_DATA
    if v>=0.8: return legend_colors[0]
    if v>=0.3: return legend_colors[1]
    if v>=0.1: return legend_colors[2]
    if v>-0.1: return legend_colors[3]
    if v>-0.3: return legend_colors[4]
    if v>-0.6: return legend_colors[5]
    return legend_colors[6]

title="Distribucion geografica ponderada por densidad - Cluster: 5804"
subtitle=[r"$\rho_{rel}$: Densidad relativa respecto a la media nacional. Ej: +0.10 significa un 10% de sobreponderación.",
          r"(Si una provincia tiene 50 empresas con $\rho_{rel}$ +0.10, tiene un exceso de 5 empresas respecto a su cuota esperada)."]
claim=["Marca de ropa deportiva femenina","sostenible con leggings, tops y sports","bras de alto rendimiento"]
top3=["Stadio Sport Sociedad (144)","New & Aglow (91)","Colibri 1 sl (32)"]
keywords=["Ropa deportiva, Leggings, Tops deportivos, Sudaderas mujer,","Camisetas deportivas, Sports bras, Shorts deportivos,","Conjuntos deportivos, Ropa yoga, Ropa gimnasio, Ropa","entrenamiento, Ropa interior deportiva, Accesorios fitness,","Calzado deportivo, Trajes baño"]
description=["Los productos que aparecen en esta selección cubren todas","las necesidades de quien practica deporte o busca ropa","cómoda para su día a día. Leggings, tops, sudaderas y","sports bras forman la base de un armario activo que combina","estilo y funcionalidad, mientras que los conjuntos, buzos y","vestidos ofrecen opciones versátiles para entrenar o salir.","La oferta también incluye ropa de yoga, trajes de baño,","calzado y accesorios de fitness, pensados para proporcionar","libertad de movimiento y un ajuste perfecto. Cada marca","apuesta por materiales técnicos, diseños modernos y","procesos sostenibles, facilitando que los consumidores","encuentren piezas que se adapten a su rutina, a sus","objetivos de entrenamiento y a su estilo personal, sin","renunciar a la calidad ni al compromiso ambiental."]
keyword_y=[423,433.4,443.9,454.3,464.8]
description_y=[532.3,542.6,553.6,564.1,574.4,585.1,596.4,607,617,627.9,638.6,648.9,659.2,669.5]

plt.rcParams['font.family']='DejaVu Sans'
plt.rcParams['mathtext.fontset']='dejavusans'
fig=plt.figure(figsize=(12.8,8.12),dpi=300)
ax=fig.add_axes([0,0,1,1])
ax.set_xlim(0,1568); ax.set_ylim(995,0); ax.axis('off')

for name,shapes,v in zip(province_names,province_shapes,rho):
    for s in shapes:
        ax.add_patch(Polygon(s,closed=True,facecolor=colour(v),edgecolor='white',linewidth=0.4,joinstyle='round',zorder=2))
# the two disconnected territories are re-drawn on top of their hosts
for s,v in ((TREVINO,1.20),(ADEMUZ,-0.08)):
    ax.add_patch(Polygon(s,closed=True,facecolor=colour(v),edgecolor='white',linewidth=0.4,zorder=3))

ax.add_patch(Ellipse((753,763),10.5,10.5,facecolor=colour(6.61),edgecolor='none',zorder=3))
ax.add_patch(Ellipse((869,763),10.5,10.5,facecolor=NO_DATA,edgecolor='none',zorder=3))

for name,x,y,n,v in zip(province_names,label_x,label_y,empresas,rho):
    k=0.87 if name in small_label_provinces else 1.0
    if v is None:
        ax.text(x,y,name,ha='center',va='center',fontsize=4.9*k,color='#555555',zorder=5)
        ax.text(x,y+9.3,"Sin empresas",ha='center',va='center',fontsize=4.05*0.84 if k<1 else 4.05,color='#888888',zorder=5)
    else:
        ax.text(x,y,name,ha='center',va='center',fontsize=4.95*k,fontweight='bold',color='black',zorder=5)
        ax.text(x,y+11.6,f"Empresas: {n}",ha='center',va='center',fontsize=4.1*k,color='#222222',zorder=5)
        ax.text(x,y+19.3,r"$\rho_{rel}$: "+f"{v:+.2f}",ha='center',va='center',fontsize=4.1*k,color='#222222',zorder=5)

ax.text(759,30.5,title,ha='center',va='center',fontsize=10.97,fontweight='bold')
for y,s in zip((68.6,80.6),subtitle):
    ax.text(759.5,y,s,ha='center',va='center',fontsize=5.5,style='italic')

L=65
ax.text(L,162,"Ropa deportiva femenina",fontsize=7.9,fontweight='bold',va='center')
for y,s in zip((191,203.5,216),claim):
    ax.text(L,y,s,fontsize=6.65,va='center')
ax.text(L,266,"Total empresas: 131",fontsize=7.3,fontweight='bold',va='center')
ax.plot([65,311],[282,282],color='#999999',lw=0.5)
ax.text(L,308.5,"Top 3 empresas (empleados)",fontsize=6.05,va='center')
for y,s in zip((332,349.5,367),top3):
    ax.text(L,y,s,fontsize=5.45,style='italic',va='center')
ax.text(L,407,"Principales keywords",fontsize=6.1,fontweight='bold',va='center')
for y,s in zip(keyword_y,keywords):
    ax.text(L,y,s,fontsize=5.5,va='center')
ax.text(L,515.5,"Descripción del cluster",fontsize=6.1,fontweight='bold',va='center')
for y,s in zip(description_y,description):
    ax.text(L,y,s,fontsize=5.5,va='center',color='#555555')

handles=[Patch(facecolor=c,edgecolor='none',label=l) for c,l in zip(legend_colors,legend_labels)]
leg=ax.legend(handles=handles,title="Referencias de colores\n",loc='upper left',bbox_to_anchor=(1316/1568,1-805/995),
              frameon=False,fontsize=6.1,title_fontsize=6.1,alignment='left',borderpad=0,borderaxespad=0,
              labelspacing=0.56,handlelength=2,handletextpad=0.8)
leg.get_title().set_linespacing(1.5)

fig.savefig("out.png",dpi=300)
